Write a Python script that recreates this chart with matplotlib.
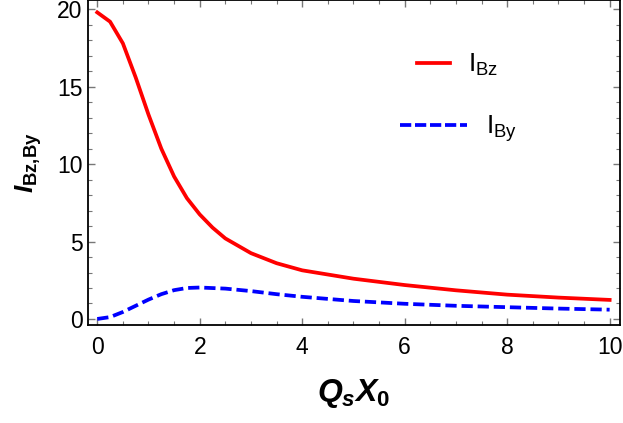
import numpy as np
import matplotlib.pyplot as plt
from matplotlib.lines import Line2D

plt.rcParams['font.family'] = 'Liberation Sans'
plt.rcParams['mathtext.fontset'] = 'custom'
plt.rcParams['mathtext.it'] = 'Liberation Sans:italic:bold'
plt.rcParams['mathtext.bf'] = 'Liberation Sans:bold'
plt.rcParams['mathtext.rm'] = 'Liberation Sans'

# values
x_bz = [0, 0.25, 0.5, 0.75, 1.0, 1.25, 1.5, 1.75, 2.0, 2.25, 2.5, 3.0, 3.5, 4.0, 5, 6, 7, 8, 9, 10]
i_bz = [19.8, 19.2, 17.8, 15.6, 13.2, 11.0, 9.2, 7.8, 6.75, 5.9, 5.2, 4.25, 3.6, 3.14, 2.6, 2.19, 1.85, 1.57, 1.38, 1.23]

x_by = [0, 0.25, 0.5, 0.75, 1.0, 1.25, 1.5, 1.75, 2.0, 2.5, 3.0, 3.5, 4.0, 5, 6, 7, 8, 9, 10]
i_by = [0, 0.12, 0.45, 0.85, 1.25, 1.6, 1.86, 2.0, 2.03, 1.96, 1.8, 1.6, 1.43, 1.16, 0.98, 0.85, 0.76, 0.67, 0.6]

fig = plt.figure(figsize=(6.23, 4.23), dpi=100)
ax = fig.add_axes([0.1413, 0.2317, 0.8537, 0.7683])

ax.plot(x_bz, i_bz, color='red', lw=2.7, solid_joinstyle='round')
ax.plot(x_by, i_by, color='blue', lw=2.7, dashes=(3.0, 1.3))

ax.set_xlim(-0.18, 10.2)
ax.set_ylim(-0.39, 20.6)

ax.set_xticks([0, 2, 4, 6, 8, 10])
ax.set_xticks(np.arange(0, 10.01, 0.5), minor=True)
ax.set_yticks([0, 5, 10, 15, 20])
ax.set_yticks(np.arange(0, 20.01, 1), minor=True)

ax.tick_params(which='both', direction='in', top=True, right=True, colors='#777777',
               labelcolor='black', labelsize=16.5)
ax.tick_params(which='major', length=5, width=1)
ax.tick_params(which='minor', length=3, width=0.8)
ax.tick_params(axis='x', pad=8)
ax.tick_params(axis='y', pad=4)
for s in ax.spines.values():
    s.set_linewidth(1.3)

ax.set_xlabel(r'$Q_s X_{\mathbf{0}}$', fontsize=23, labelpad=13)
ax.set_ylabel(r'$I_{\mathbf{Bz,\!By}}$', fontsize=19, labelpad=9)

leg1 = ax.legend([Line2D([], [], color='red', lw=2.7)], [r'I$_{\mathrm{Bz}}$'],
                 loc='center left', bbox_to_anchor=(0.618, 0.80), frameon=False,
                 borderpad=0, borderaxespad=0,
                 handlelength=1.25, handletextpad=0.68, fontsize=19)
ax.add_artist(leg1)
ax.legend([Line2D([], [], color='blue', lw=2.7, dashes=(3.0, 1.0))], [r'I$_{\mathrm{By}}$'],
          loc='center left', bbox_to_anchor=(0.586, 0.603), frameon=False,
          borderpad=0, borderaxespad=0,
          handlelength=2.54, handletextpad=0.72, fontsize=19)

fig.savefig('out.png', dpi=100)
